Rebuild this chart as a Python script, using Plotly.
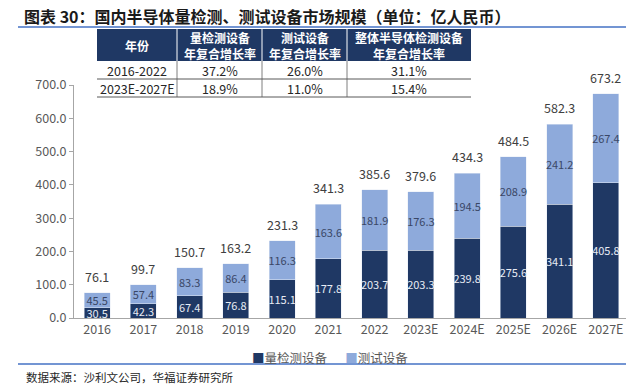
import plotly.graph_objects as go

categories = ["2016", "2017", "2018", "2019", "2020", "2021", "2022",
              "2023E", "2024E", "2025E", "2026E", "2027E"]
metrology = [30.5, 42.3, 67.4, 76.8, 115.1, 177.8, 203.7, 203.3, 239.8, 275.6, 341.1, 405.8]
testing = [45.5, 57.4, 83.3, 86.4, 116.3, 163.6, 181.9, 176.3, 194.5, 208.9, 241.2, 267.4]
totals = [76.1, 99.7, 150.7, 163.2, 231.3, 341.3, 385.6, 379.6, 434.3, 484.5, 582.3, 673.2]
y_ticks = [0, 100, 200, 300, 400, 500, 600, 700]
series_names = ["量检测设备", "测试设备"]

table_header = ["年份", "量检测设备<br>年复合增长率", "测试设备<br>年复合增长率", "整体半导体检测设备<br>年复合增长率"]
table_rows = [["2016-2022", "37.2%", "26.0%", "31.1%"],
              ["2023E-2027E", "18.9%", "11.0%", "15.4%"]]

W, H = 634, 385
OFF = 8  # page body margin offset
def px(x): return (x - OFF) / W
def py(y): return 1 - (y - OFF) / H

DARK = "#1f3864"
LIGHT = "#8eaadb"
CJK = "Noto Sans CJK SC"

fig = go.Figure()
fig.add_trace(go.Bar(
    x=categories, y=metrology, name=series_names[0], marker_color=DARK,
    text=[f"{v:.1f}" for v in metrology], textposition="inside", textangle=0,
    insidetextanchor="middle", textfont=dict(color="#e8ecf4", size=11, family=CJK),
))
fig.add_trace(go.Bar(
    x=categories, y=testing, name=series_names[1], marker_color=LIGHT,
    text=[f"{v:.1f}" for v in testing], textposition="inside", textangle=0,
    insidetextanchor="middle", textfont=dict(color="#3a4766", size=11, family=CJK),
))
# total labels: x given as category index on the category axis
for i, t in enumerate(totals):
    fig.add_annotation(x=i, y=t, xref="x", yref="y", text=f"{t:.1f}", showarrow=False,
                       yanchor="bottom", yshift=5,
                       font=dict(size=12.5, color="#404040", family=CJK))

shapes = []
annotations = []
# title and rules
annotations.append(dict(xref="paper", yref="paper", x=px(22), y=py(16.5), xanchor="left", yanchor="middle",
                        text="<b>图表 30：国内半导体量检测、测试设备市场规模（单位：亿人民币）</b>",
                        showarrow=False, font=dict(size=16, color="#1a1a1a", family=CJK)))
shapes.append(dict(type="line", xref="paper", yref="paper", x0=px(18), x1=px(634), y0=py(27), y1=py(27),
                   line=dict(color="#4472c4", width=1.5)))
shapes.append(dict(type="line", xref="paper", yref="paper", x0=px(18), x1=px(634), y0=py(364), y1=py(364),
                   line=dict(color="#4472c4", width=1.5)))
annotations.append(dict(xref="paper", yref="paper", x=px(24), y=py(377), xanchor="left", yanchor="middle",
                        text="数据来源：沙利文公司，华福证券研究所", showarrow=False,
                        font=dict(size=11.5, color="#262626", family=CJK)))
# legend (drawn as text)
annotations.append(dict(xref="paper", yref="paper", x=px(330), y=py(357), xanchor="center", yanchor="middle",
                        text=f"<span style='color:{DARK}'>■</span>{series_names[0]}　  "
                             f"<span style='color:{LIGHT}'>■</span>{series_names[1]}",
                        showarrow=False, font=dict(size=12.5, color="#595959", family=CJK)))

# table
col_x = [97, 177, 262, 347, 471]
row_y = [29, 61, 79, 97]
shapes.append(dict(type="rect", xref="paper", yref="paper", x0=px(col_x[0]), x1=px(col_x[-1]),
                   y0=py(row_y[0]), y1=py(row_y[1]), fillcolor=DARK, line=dict(width=0), layer="above"))
shapes.append(dict(type="rect", xref="paper", yref="paper", x0=px(col_x[0]), x1=px(col_x[-1]),
                   y0=py(row_y[1]), y1=py(row_y[3]), fillcolor="white", line=dict(width=0), layer="above"))
for xv in col_x[1:-1]:
    shapes.append(dict(type="line", xref="paper", yref="paper", x0=px(xv), x1=px(xv),
                       y0=py(row_y[0]), y1=py(row_y[1]), line=dict(color="white", width=1), layer="above"))
    shapes.append(dict(type="line", xref="paper", yref="paper", x0=px(xv), x1=px(xv),
                       y0=py(row_y[1]), y1=py(row_y[3]), line=dict(color="#7f7f7f", width=1), layer="above"))
for yv in row_y[2:]:
    shapes.append(dict(type="line", xref="paper", yref="paper", x0=px(col_x[0]), x1=px(col_x[-1]),
                       y0=py(yv), y1=py(yv), line=dict(color="#595959", width=1), layer="above"))
for i, h in enumerate(table_header):
    cx = (col_x[i] + col_x[i + 1]) / 2
    annotations.append(dict(xref="paper", yref="paper", x=px(cx), y=py((row_y[0] + row_y[1]) / 2),
                            text=f"<b>{h}</b>", showarrow=False, xanchor="center", yanchor="middle",
                            font=dict(size=12, color="white", family=CJK)))
for r, row in enumerate(table_rows):
    cy = (row_y[r + 1] + row_y[r + 2]) / 2
    for i, v in enumerate(row):
        cx = (col_x[i] + col_x[i + 1]) / 2
        annotations.append(dict(xref="paper", yref="paper", x=px(cx), y=py(cy), text=v, showarrow=False,
                                xanchor="center", yanchor="middle",
                                font=dict(size=12.5, color="#262626", family=CJK)))

for a in annotations:
    fig.add_annotation(**a)

fig.update_layout(
    width=W, height=H, margin=dict(l=0, r=0, t=0, b=0, pad=0, autoexpand=False),
    paper_bgcolor="white", plot_bgcolor="white",
    barmode="stack", bargap=0.44,
    uniformtext=dict(minsize=11, mode="show"),
    shapes=shapes,
    font=dict(family=CJK, color="#595959"),
    showlegend=False,
    xaxis=dict(type="category", categoryorder="array", categoryarray=categories, automargin=False,
               range=[-0.5, len(categories) - 0.5], domain=[px(74), px(629)],
               showline=True, linecolor="#a6a6a6", linewidth=1,
               ticks="", tickfont=dict(size=12.5, color="#595959"), showgrid=False),
    yaxis=dict(domain=[py(318), py(85)], range=[0, 700], tickvals=y_ticks, automargin=False,
               ticktext=[f"{v:.1f}" for v in y_ticks], showline=True, linecolor="#a6a6a6",
               ticks="outside", ticklen=4, tickcolor="#a6a6a6", showgrid=False,
               tickfont=dict(size=12.5, color="#595959"), zeroline=False),
)
fig.write_html("out.html")
